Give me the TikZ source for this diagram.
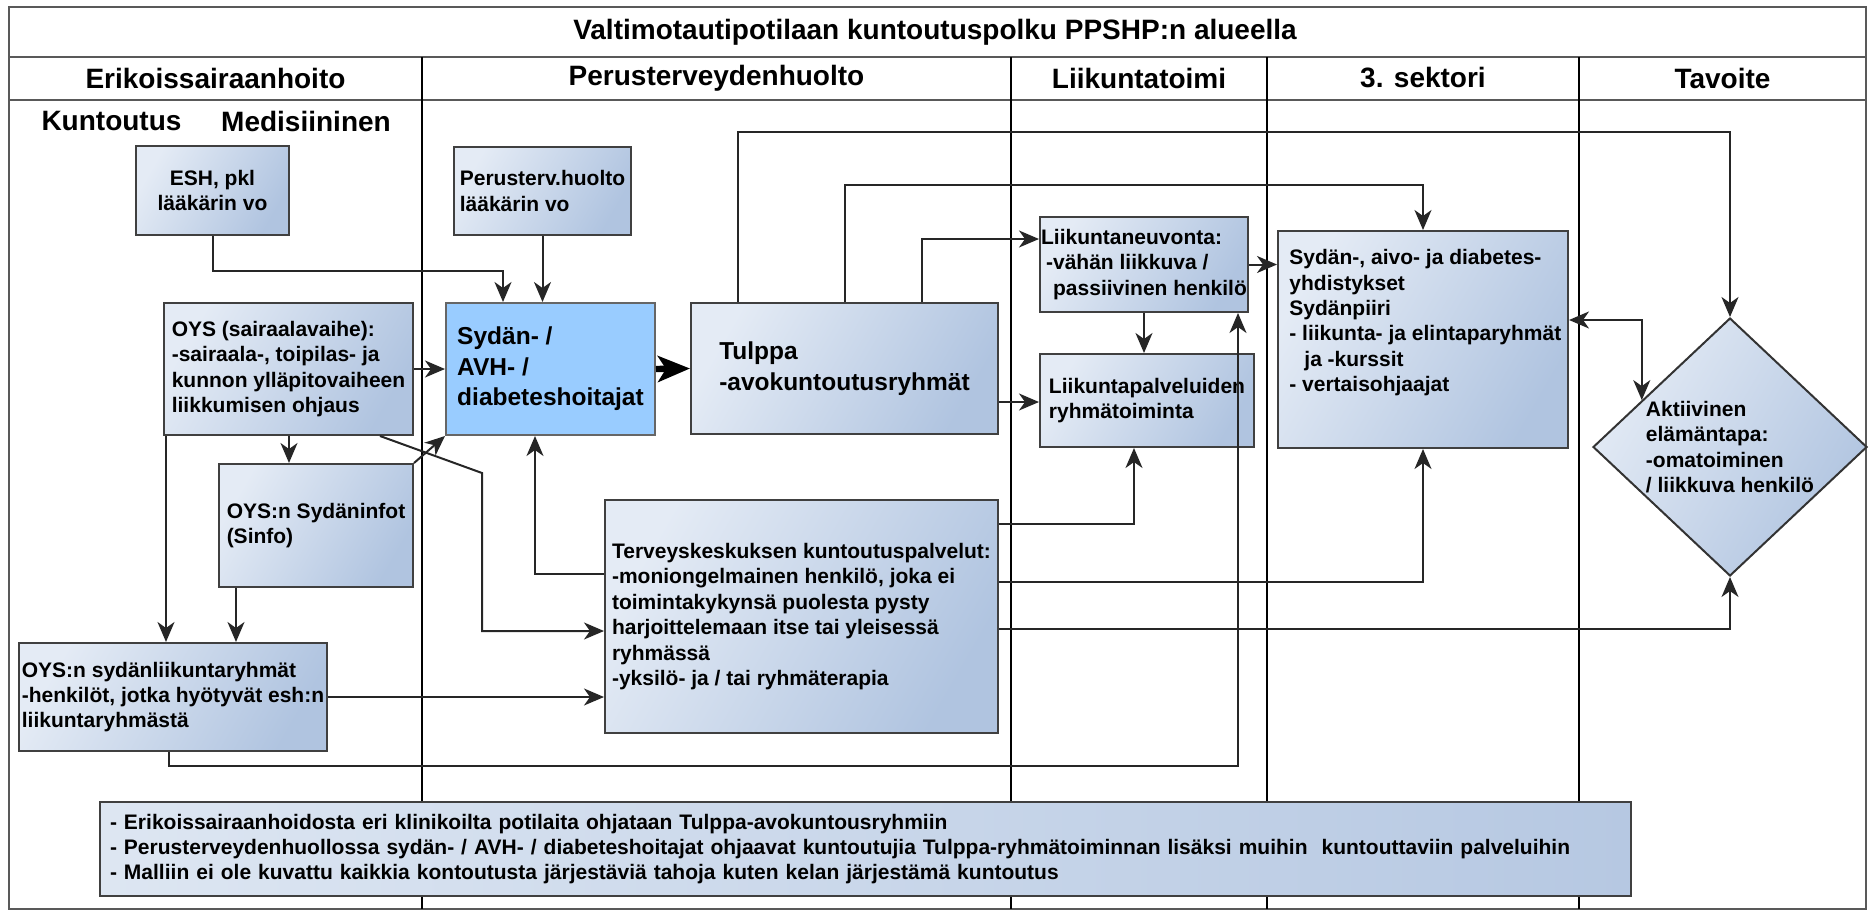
\documentclass[tikz,border=0pt]{standalone}
\usepackage{fontspec}
\setmainfont{Liberation Sans}
\usetikzlibrary{arrows.meta,shapes.geometric,positioning}

\definecolor{boxlight}{HTML}{E4EBF5}
\definecolor{boxdark}{HTML}{B0C4E0}
\definecolor{notelight}{HTML}{DDE6F2}
\definecolor{notedark}{HTML}{B6C8E2}
\definecolor{sydblue}{HTML}{99CCFF}

\newcommand{\pienifont}{\fontsize{10.5}{12.7}\selectfont\bfseries}
\newcommand{\isofont}{\fontsize{12.25}{15.3}\selectfont\bfseries}
\newcommand{\otsikkofont}{\fontsize{14}{16}\selectfont\bfseries}

\begin{document}
\begin{tikzpicture}[x=0.5pt, y=-0.5pt,
		>={Stealth[length=10pt,width=8.5pt,inset=3pt]},
		runko/.style={draw=black!65, line width=1.3pt},
		sarake/.style={draw=black, line width=0.9pt},
		otsikko/.style={font=\otsikkofont, inner sep=0pt},
		laatikko/.style={draw=black!75, line width=1pt, left color=boxlight, right color=boxdark, shading angle=60, align=left, inner xsep=0.5pt, inner ysep=0pt, font=\pienifont},
		hoitaja/.style={draw=black!60, line width=1pt, fill=sydblue, align=left, inner xsep=0.5pt, inner ysep=0pt, font=\isofont},
		tavoite/.style={diamond, draw=black!80, line width=1pt, left color=boxlight, right color=boxdark, shading angle=60, inner sep=0pt},
		teksti/.style={align=left, inner sep=0pt, font=\pienifont},
		nuoli/.style={->, draw=black!85, line width=1pt},
		paksu/.style={-{Stealth[length=16pt,width=13pt,inset=4pt]}, draw=black, line width=3.2pt}]
		\useasboundingbox (0,0) rectangle (1870,911);

		% taulukko
		\draw[runko] (9,7) rectangle (1866,909);
		\draw[runko] (9,57) -- (1866,57);
		\draw[runko] (9,100) -- (1866,100);
		\foreach \x in {422,1011,1267,1579}
			\draw[sarake] (\x,57) -- (\x,909);

		\node[otsikko] (otsikko) at (935,32) {Valtimotautipotilaan kuntoutuspolku PPSHP:n alueella};
		\node[otsikko] (esh_h) at (215.5,78) {Erikoissairaanhoito};
		\node[otsikko] (pth_h) at (716.5,78) {Perusterveydenhuolto};
		\node[otsikko] (lt_h) at (1139,78) {Liikuntatoimi};
		\node[otsikko] (sek_h) at (1423,78) {3. sektori};
		\node[otsikko] (tav_h) at (1722.5,78) {Tavoite};
		\node[otsikko] (kunt_h) at (111.5,121) {Kuntoutus};
		\node[otsikko] (med_h) at (306,121) {Medisiininen};

		% laatikot
		\node[laatikko, align=center, minimum width=76.5pt, minimum height=44.5pt] (esh) at (212.5,190.5) {ESH, pkl\\lääkärin vo};
		\node[laatikko, minimum width=88.5pt, minimum height=44pt] (phlaak) at (542.5,191) {Perusterv.huolto\\lääkärin vo};
		\node[laatikko, minimum width=124.5pt, minimum height=66pt] (oys) at (288.5,369) {OYS (sairaalavaihe):\\-sairaala-, toipilas- ja\\kunnon ylläpitovaiheen\\liikkumisen ohjaus};
		\node[hoitaja, minimum width=104.5pt, minimum height=66pt] (syd) at (550.5,369) {Sydän- /\\AVH- /\\diabeteshoitajat};
		\node[laatikko, font=\isofont, minimum width=153.5pt, minimum height=65.5pt] (tulppa) at (844.5,368.5) {Tulppa\\-avokuntoutusryhmät};
		\node[laatikko, minimum width=104pt, minimum height=47.5pt] (lneuv) at (1144,264.5) {Liikuntaneuvonta:\\\hspace*{2.5pt}-vähän liikkuva /\\\hspace*{6pt}passiivinen henkilö};
		\node[laatikko, minimum width=107pt, minimum height=46.5pt] (lpalv) at (1147,400.5) {Liikuntapalveluiden\\ryhmätoiminta};
		\node[laatikko, minimum width=145pt, minimum height=108.5pt] (yhd) at (1423,339.5) {};
		\node[teksti, anchor=north west] (yhdtxt) at ([xshift=6pt,yshift=-9.5pt]yhd.north west) {Sydän-, aivo- ja diabetes-\\yhdistykset\\Sydänpiiri\\- liikunta- ja elintaparyhmät\\\hspace*{7.5pt}ja -kurssit\\- vertaisohjaajat};
		\node[tavoite, minimum width=137pt, minimum height=129pt] (aktiiv) at (1730,447) {};
		\node[teksti] (aktiivtxt) at (aktiiv.center) {Aktiivinen\\elämäntapa:\\-omatoiminen\\/ liikkuva henkilö};
		\node[laatikko, minimum width=97pt, minimum height=61.5pt] (sinfo) at (316,525.5) {OYS:n Sydäninfot\\(Sinfo)};
		\node[laatikko, minimum width=154pt, minimum height=54pt] (oysl) at (173,697) {OYS:n sydänliikuntaryhmät\\-henkilöt, jotka hyötyvät esh:n\\liikuntaryhmästä};
		\node[laatikko, minimum width=196.5pt, minimum height=116.5pt] (tk) at (801.5,616.5) {Terveyskeskuksen kuntoutuspalvelut:\\-moniongelmainen henkilö, joka ei\\toimintakykynsä puolesta pysty\\harjoittelemaan itse tai yleisessä\\ryhmässä\\-yksilö- ja / tai ryhmäterapia};
		\node[laatikko, left color=notelight, right color=notedark, text width=755.5pt, inner xsep=5pt, minimum width=765.5pt, minimum height=47pt] (huom) at (865.5,849) {- Erikoissairaanhoidosta eri klinikoilta potilaita ohjataan Tulppa-avokuntousryhmiin\\- Perusterveydenhuollossa sydän- / AVH- / diabeteshoitajat ohjaavat kuntoutujia Tulppa-ryhmätoiminnan lisäksi muihin~ kuntouttaviin palveluihin\\- Malliin ei ole kuvattu kaikkia kontoutusta järjestäviä tahoja kuten kelan järjestämä kuntoutus};

		\coordinate (mutka) at (482,473);

		% nuolet
		\draw[nuoli] (esh.south) -- ++(0,35) -| ([xshift=-23.75pt]syd.north);
		\draw[nuoli] (phlaak.south) -- (phlaak.south |- syd.north);
		\draw[nuoli] (oys.east) -- (syd.west);
		\draw[paksu] (syd.east) -- (tulppa.west);
		\draw[nuoli] ([xshift=63pt]oys.south west) -- ([xshift=63pt]oys.south west |- sinfo.north);
		\draw[nuoli] ([xshift=1.5pt]oys.south west) -- ([xshift=1.5pt]oys.south west |- oysl.north);
		\draw[nuoli] ([xshift=9pt]sinfo.south west) -- ([xshift=9pt]sinfo.south west |- oysl.north);
		\draw[nuoli] (sinfo.north east) -- (syd.south west);
		\draw[nuoli] ([xshift=-17pt]oys.south east) -- (mutka) |- ([yshift=-7.25pt]tk.west);
		\draw[nuoli] ([yshift=21.25pt]tk.west) -| ([xshift=-7.75pt]syd.south);
		\draw[nuoli] (oysl.east) -- (oysl.east -| tk.west);
		\draw[nuoli] ([xshift=-2pt]oysl.south) -- ++(0,14) -| ([xshift=47pt]lneuv.south);
		\draw[nuoli] ([yshift=46.25pt]tk.east) -| ([xshift=-6.5pt]lpalv.south);
		\draw[nuoli] ([yshift=17.25pt]tk.east) -| (yhd.south);
		\draw[nuoli] ([yshift=-6.25pt]tk.east) -| (aktiiv.south);
		\draw[nuoli] ([xshift=38.75pt]tulppa.north) |- ([yshift=12.75pt]lneuv.west);
		\draw[nuoli] ([yshift=-16.75pt]tulppa.east) -- ([yshift=-16.75pt]tulppa.east -| lpalv.west);
		\draw[nuoli] (tulppa.north) -- ++(0,-117) -| (yhd.north);
		\draw[nuoli] ([xshift=-53.25pt]tulppa.north) -- ++(0,-170) -| (aktiiv.north);
		\draw[nuoli] (lneuv.south) -- (lneuv.south |- lpalv.north);
		\draw[nuoli] (lneuv.east) -- (lneuv.east -| yhd.west);
		\draw[nuoli, <->] ([yshift=9.75pt]yhd.east) -| (aktiiv.152);
	\end{tikzpicture}
\end{document}
